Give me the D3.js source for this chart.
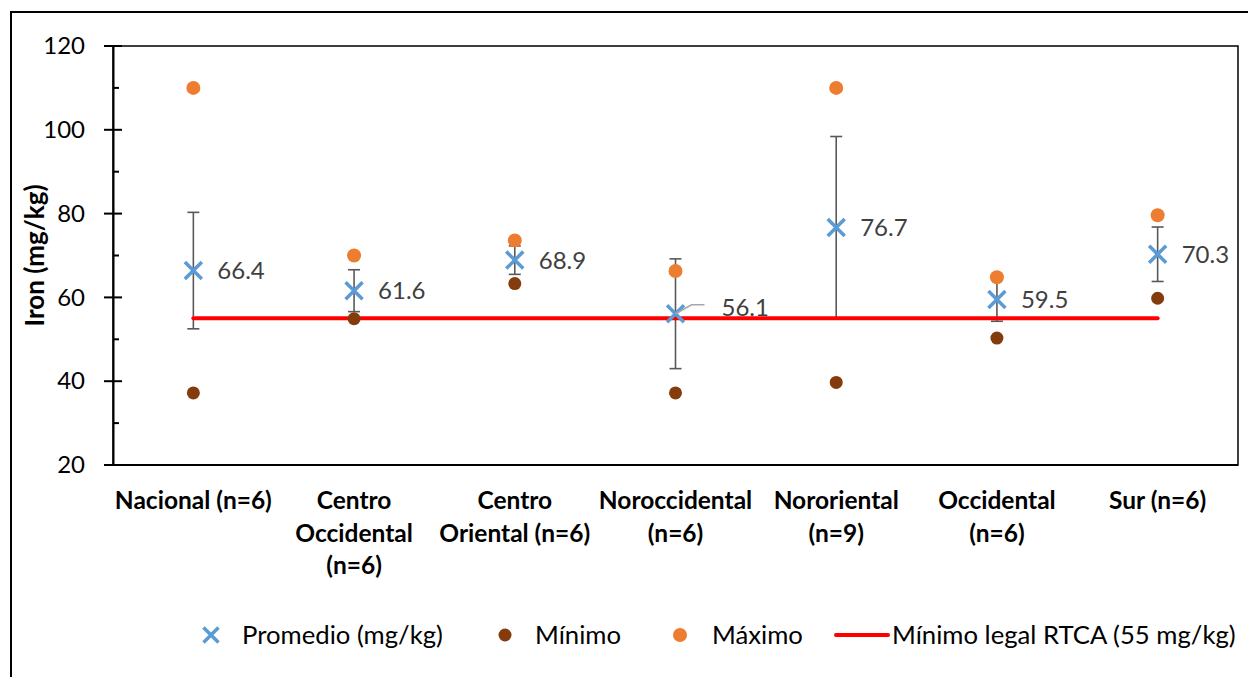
<!DOCTYPE html>
<html>
<head>
<meta charset="utf-8">
<script src="https://cdn.jsdelivr.net/npm/d3@7"></script>
<style>
  html, body { margin: 0; padding: 0; background: #fff; }
  svg { display: block; }
  text { font-family: Lato, "Open Sans", sans-serif; }
</style>
</head>
<body>
<svg id="chart" width="1248" height="677"></svg>
<script>
// ---- Data ----
const categories = [
  ["Nacional (n=6)"],
  ["Centro", "Occidental", "(n=6)"],
  ["Centro", "Oriental (n=6)"],
  ["Noroccidental", "(n=6)"],
  ["Nororiental", "(n=9)"],
  ["Occidental", "(n=6)"],
  ["Sur (n=6)"]
];
const promedio = [66.4, 61.6, 68.9, 56.1, 76.7, 59.5, 70.3];
const desviacion = [13.9, 5.0, 3.4, 13.1, 21.7, 5.2, 6.5];
const minimo = [37.2, 54.9, 63.3, 37.2, 39.7, 50.3, 59.8];
const maximo = [110.0, 70.0, 73.6, 66.3, 110.0, 64.8, 79.6];
const limiteLegal = 55;
const yTicks = [20, 40, 60, 80, 100, 120];
const yMinorTicks = [30, 50, 70, 90, 110];
const legendLabels = ["Promedio (mg/kg)", "Mínimo", "Máximo", "Mínimo legal RTCA (55 mg/kg)"];
const yTitle = "Iron (mg/kg)";

// ---- Layout ----
const svg = d3.select("#chart");
const plot = { left: 113, right: 1238, top: 46, bottom: 465 };
const C = { mean: "#5B9BD5", min: "#843C0C", max: "#ED7D31", red: "#FF0000", err: "#595959", label: "#404040" };

const x = d3.scaleBand().domain(d3.range(categories.length)).range([plot.left, plot.right]);
const cx = i => x(i) + x.bandwidth() / 2;
const y = d3.scaleLinear().domain([20, 120]).range([plot.bottom, plot.top]);

// Outer frame
svg.append("rect").attr("x", 11).attr("y", 12).attr("width", 1260).attr("height", 720)
  .attr("fill", "none").attr("stroke", "#000").attr("stroke-width", 2);

// Plot frame
svg.append("rect").attr("x", plot.left).attr("y", plot.top)
  .attr("width", plot.right - plot.left).attr("height", plot.bottom - plot.top)
  .attr("fill", "none").attr("stroke", "#000").attr("stroke-width", 1.5);

// Y axis
const yAxis = d3.axisLeft(y).tickValues(yTicks).tickSize(0).tickPadding(28);
const gy = svg.append("g").attr("transform", `translate(${plot.left},0)`).call(yAxis);
gy.select(".domain").attr("stroke", "#000").attr("stroke-width", 2);
gy.selectAll(".tick text").attr("font-size", 24).attr("fill", "#000").attr("font-family", "Lato");
// major ticks crossing axis
svg.append("g").selectAll("line").data(yTicks).join("line")
  .attr("x1", plot.left - 9).attr("x2", plot.left + 9)
  .attr("y1", d => y(d)).attr("y2", d => y(d))
  .attr("stroke", "#000").attr("stroke-width", 2);
// minor ticks inside
svg.append("g").selectAll("line").data(yMinorTicks).join("line")
  .attr("x1", plot.left).attr("x2", plot.left + 6)
  .attr("y1", d => y(d)).attr("y2", d => y(d))
  .attr("stroke", "#000").attr("stroke-width", 2);

// Bottom axis line
svg.append("line").attr("x1", plot.left - 9).attr("x2", plot.right)
  .attr("y1", plot.bottom).attr("y2", plot.bottom)
  .attr("stroke", "#000").attr("stroke-width", 2);

// X labels
const xl = svg.append("g");
categories.forEach((lines, i) => {
  const t = xl.append("text").attr("x", cx(i)).attr("y", 509)
    .attr("text-anchor", "middle").attr("font-size", 24.5).attr("font-weight", "bold").attr("fill", "#000");
  lines.forEach((ln, j) => {
    t.append("tspan").attr("x", cx(i)).attr("dy", j === 0 ? 0 : 32.5).text(ln);
  });
});

// Y title
svg.append("text")
  .attr("transform", `translate(44,${(plot.top + plot.bottom) / 2}) rotate(-90)`)
  .attr("text-anchor", "middle").attr("font-size", 26).attr("font-weight", "bold").attr("fill", "#000")
  .text(yTitle);

// Error bars
const eb = svg.append("g").attr("stroke", C.err).attr("stroke-width", 1.6);
promedio.forEach((m, i) => {
  const top = y(m + desviacion[i]), bot = y(m - desviacion[i]);
  eb.append("line").attr("x1", cx(i)).attr("x2", cx(i)).attr("y1", top).attr("y2", bot);
  eb.append("line").attr("x1", cx(i) - 6).attr("x2", cx(i) + 6).attr("y1", top).attr("y2", top);
  eb.append("line").attr("x1", cx(i) - 6).attr("x2", cx(i) + 6).attr("y1", bot).attr("y2", bot);
});

// Red legal line
svg.append("line").attr("x1", cx(0)).attr("x2", cx(categories.length - 1))
  .attr("y1", y(limiteLegal)).attr("y2", y(limiteLegal))
  .attr("stroke", C.red).attr("stroke-width", 4).attr("stroke-linecap", "round");

// Min & max dots
svg.append("g").selectAll("circle").data(minimo).join("circle")
  .attr("cx", (d, i) => cx(i)).attr("cy", d => y(d)).attr("r", 6.5).attr("fill", C.min);
svg.append("g").selectAll("circle").data(maximo).join("circle")
  .attr("cx", (d, i) => cx(i)).attr("cy", d => y(d)).attr("r", 7).attr("fill", C.max);

// Mean X markers
function drawX(g, px, py, s) {
  g.append("path").attr("d", `M${px - s},${py - s}L${px + s},${py + s}M${px - s},${py + s}L${px + s},${py - s}`)
    .attr("stroke", C.mean).attr("stroke-width", 3.5).attr("fill", "none");
}
const mg = svg.append("g");
promedio.forEach((m, i) => drawX(mg, cx(i), y(m), 8.5));

// Data labels
const lg = svg.append("g");
promedio.forEach((m, i) => {
  let lx = cx(i) + 24, ly = y(m);
  if (i === 3) {
    // label displaced with leader line
    lx = cx(i) + 46; ly = y(m) - 6;
    lg.append("path")
      .attr("d", `M${cx(i)},${y(m)}L${cx(i) + 16},${ly - 3}L${cx(i) + 29},${ly - 3}`)
      .attr("stroke", "#A6A6A6").attr("stroke-width", 1.5).attr("fill", "none");
  }
  lg.append("text").attr("x", lx).attr("y", ly).attr("dy", "0.36em")
    .attr("font-size", 24).attr("fill", C.label).text(m.toFixed(1));
});

// Legend
const legY = 635, legFs = 25.7;
const leg = svg.append("g");
drawX(leg, 211, legY, 7.5);
leg.append("text").attr("x", 242).attr("y", legY).attr("dy", "0.36em").attr("font-size", legFs).attr("fill", "#000").text(legendLabels[0]);
leg.append("circle").attr("cx", 505).attr("cy", legY).attr("r", 6.5).attr("fill", C.min);
leg.append("text").attr("x", 535).attr("y", legY).attr("dy", "0.36em").attr("font-size", legFs).attr("fill", "#000").text(legendLabels[1]);
leg.append("circle").attr("cx", 680).attr("cy", legY).attr("r", 7).attr("fill", C.max);
leg.append("text").attr("x", 712).attr("y", legY).attr("dy", "0.36em").attr("font-size", legFs).attr("fill", "#000").text(legendLabels[2]);
leg.append("line").attr("x1", 836).attr("x2", 888).attr("y1", legY).attr("y2", legY)
  .attr("stroke", C.red).attr("stroke-width", 4).attr("stroke-linecap", "round");
leg.append("text").attr("x", 892).attr("y", legY).attr("dy", "0.36em").attr("font-size", legFs).attr("fill", "#000").text(legendLabels[3]);
</script>
</body>
</html>
